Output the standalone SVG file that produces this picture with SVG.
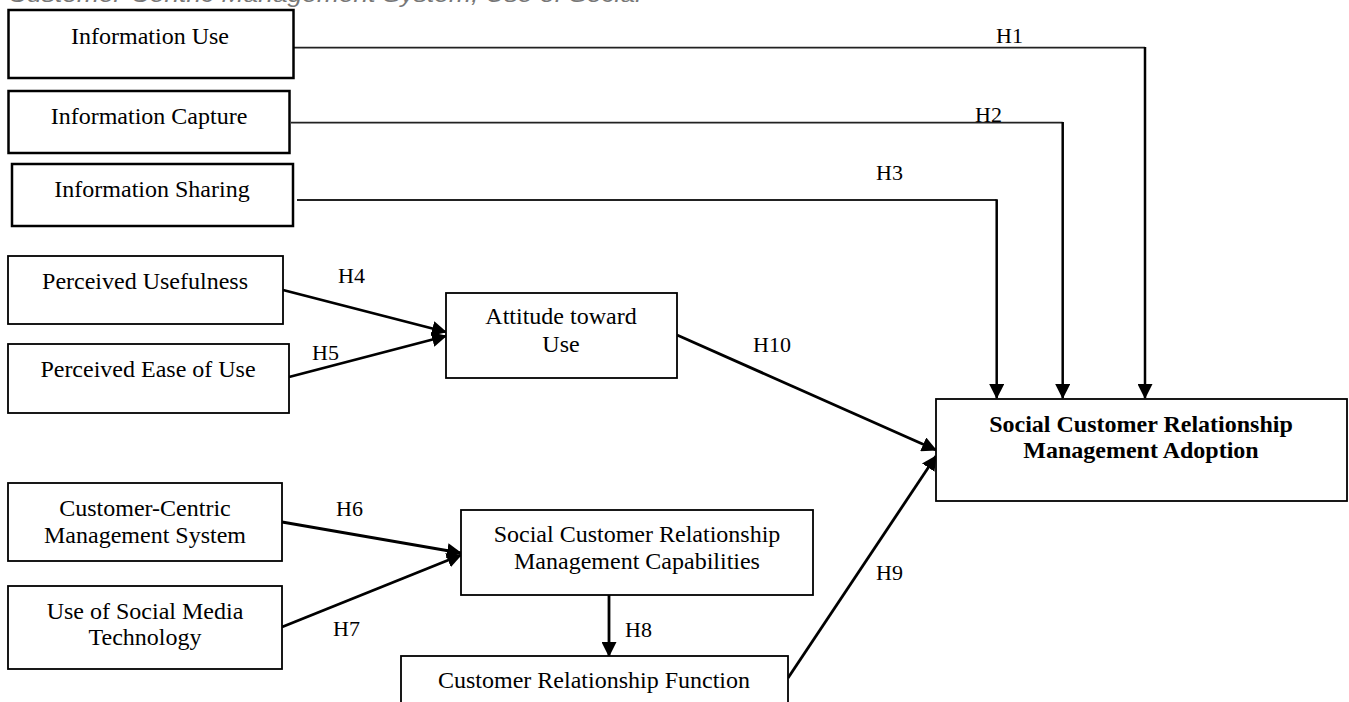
<svg xmlns="http://www.w3.org/2000/svg" width="1349" height="702" viewBox="0 0 1349 702">
<defs>
<style>
.box{fill:#fff;stroke:#000;stroke-width:1.8}
.boxt{fill:#fff;stroke:#000;stroke-width:2.5}
.t{font-family:"Liberation Serif","Times New Roman",serif;font-size:24px;fill:#000;text-anchor:middle}
.b{font-weight:bold}
.lbl{font-family:"Liberation Serif","Times New Roman",serif;font-size:22px;fill:#000}
.hl{fill:none;stroke:#222;stroke-width:1.8}
.vl{fill:none;stroke:#000;stroke-width:2.5;marker-end:url(#ah)}
.al{fill:none;stroke:#000;stroke-width:2.8;marker-end:url(#ah)}
.top{font-family:"Liberation Sans",Arial,sans-serif;font-size:22px;font-style:italic;fill:#777}
</style>
<marker id="ah" viewBox="0 0 15 15" refX="14" refY="7.5" markerWidth="15" markerHeight="15" markerUnits="userSpaceOnUse" orient="auto">
<path d="M0,0 L15,7.5 L0,15 z" fill="#000"/>
</marker>
</defs>
<rect width="1349" height="702" fill="#fff"/>
<text class="top" x="8" y="2" textLength="633" lengthAdjust="spacingAndGlyphs">Customer-Centric Management System; Use of Social</text>

<g id="connectors">
<path class="hl" d="M291,47.7 H1145"/>
<path class="vl" d="M1145,47 V398"/>
<path class="hl" d="M291,122.7 H1062.7"/>
<path class="vl" d="M1062.7,122 V398"/>
<path class="hl" d="M297,200 H996.7"/>
<path class="vl" d="M996.7,199.3 V398"/>
<path class="al" d="M283,290 L446,332"/>
<path class="al" d="M289,377 L446,336"/>
<path class="al" d="M677,335 L936,450"/>
<path class="al" d="M282,522 L461,553"/>
<path class="al" d="M282,627 L461,555"/>
<path class="al" d="M609,595 L609,656"/>
<path class="al" d="M788,678 L936,456"/>
<text class="lbl" x="996" y="43">H1</text>
<text class="lbl" x="975" y="122">H2</text>
<text class="lbl" x="876" y="180">H3</text>
<text class="lbl" x="338" y="283">H4</text>
<text class="lbl" x="312" y="360">H5</text>
<text class="lbl" x="753" y="352">H10</text>
<text class="lbl" x="336" y="516">H6</text>
<text class="lbl" x="333" y="636">H7</text>
<text class="lbl" x="625" y="637">H8</text>
<text class="lbl" x="876" y="580">H9</text>
</g>

<g id="info-use"><rect class="boxt" x="8.5" y="10" width="285" height="68"/><text class="t" x="150" y="44">Information Use</text></g>
<g id="info-capture"><rect class="boxt" x="8.5" y="91" width="281" height="62"/><text class="t" x="149" y="124">Information Capture</text></g>
<g id="info-sharing"><rect class="boxt" x="12" y="164" width="281" height="62"/><text class="t" x="152" y="197">Information Sharing</text></g>
<g id="perceived-usefulness"><rect class="box" x="8" y="256" width="275" height="68"/><text class="t" x="145" y="289">Perceived Usefulness</text></g>
<g id="perceived-ease"><rect class="box" x="8" y="344" width="281" height="69"/><text class="t" x="148" y="377">Perceived Ease of Use</text></g>
<g id="attitude"><rect class="box" x="446" y="293" width="231" height="85"/><text class="t" x="561" y="324">Attitude toward</text><text class="t" x="561" y="352">Use</text></g>
<g id="ccms"><rect class="box" x="8" y="483" width="274" height="78"/><text class="t" x="145" y="516">Customer-Centric</text><text class="t" x="145" y="543">Management System</text></g>
<g id="social-media"><rect class="box" x="8" y="586" width="274" height="83"/><text class="t" x="145" y="619">Use of Social Media</text><text class="t" x="145" y="645">Technology</text></g>
<g id="scrm-capabilities"><rect class="box" x="461" y="510" width="352" height="85"/><text class="t" x="637" y="542">Social Customer Relationship</text><text class="t" x="637" y="569">Management Capabilities</text></g>
<g id="crf"><rect class="box" x="401" y="656" width="387" height="60"/><text class="t" x="594" y="688">Customer Relationship Function</text></g>
<g id="scrm-adoption"><rect class="box" x="936" y="399" width="411" height="102"/><text class="t b" x="1141" y="432">Social Customer Relationship</text><text class="t b" x="1141" y="458">Management Adoption</text></g>
</svg>
